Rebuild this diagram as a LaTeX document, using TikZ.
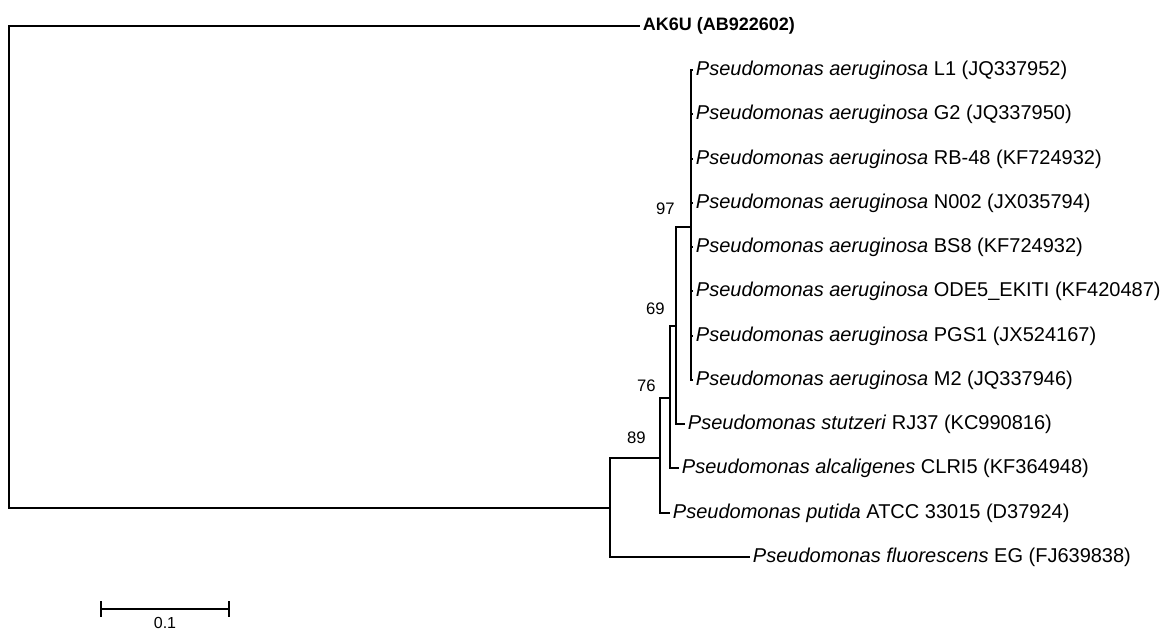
\documentclass[tikz,border=0pt]{standalone}
\usepackage{fontspec}
\setmainfont{Liberation Sans}
\begin{document}
\begin{tikzpicture}[x=0.75pt,y=-0.75pt,
    branch/.style={draw=black,line width=1.1pt},
    taxon/.style={anchor=west,inner sep=2pt,font=\fontsize{15}{17}\selectfont},
    boot/.style={anchor=south east,inner sep=0pt,font=\fontsize{12.5}{14}\selectfont}
  ]
    \useasboundingbox (0,0) rectangle (1162,632);

    \coordinate (root) at (9,267);
    \coordinate (nA) at (610,508);
    \coordinate (n89) at (660,458);
    \coordinate (n76) at (670,398);
    \coordinate (n69) at (676,326);
    \coordinate (n97) at (691,227);

    \node[taxon,font=\fontsize{13.5}{15}\bfseries] (ak6u) at (640,26) {AK6U (AB922602)};
    \node[taxon] (pa1) at (693,70) {\textit{Pseudomonas aeruginosa} L1 (JQ337952)};
    \node[taxon] (pa2) at (693,114) {\textit{Pseudomonas aeruginosa} G2 (JQ337950)};
    \node[taxon] (pa3) at (693,159) {\textit{Pseudomonas aeruginosa} RB-48 (KF724932)};
    \node[taxon] (pa4) at (693,203) {\textit{Pseudomonas aeruginosa} N002 (JX035794)};
    \node[taxon] (pa5) at (693,247) {\textit{Pseudomonas aeruginosa} BS8 (KF724932)};
    \node[taxon] (pa6) at (693,291) {\textit{Pseudomonas aeruginosa} ODE5\_EKITI (KF420487)};
    \node[taxon] (pa7) at (693,336) {\textit{Pseudomonas aeruginosa} PGS1 (JX524167)};
    \node[taxon] (pa8) at (693,380) {\textit{Pseudomonas aeruginosa} M2 (JQ337946)};
    \node[taxon] (stutz) at (685,424) {\textit{Pseudomonas stutzeri} RJ37 (KC990816)};
    \node[taxon] (alcal) at (679,468) {\textit{Pseudomonas alcaligenes} CLRI5 (KF364948)};
    \node[taxon] (putida) at (670,513) {\textit{Pseudomonas putida} ATCC 33015 (D37924)};
    \node[taxon] (fluo) at (750,557) {\textit{Pseudomonas fluorescens} EG (FJ639838)};

    \draw[branch] (root) |- (ak6u.west);
    \draw[branch] (root) |- (nA);
    \draw[branch] (nA) |- (n89);
    \draw[branch] (nA) |- (fluo.west);
    \draw[branch] (n89) |- (n76);
    \draw[branch] (n89) |- (putida.west);
    \draw[branch] (n76) |- (n69);
    \draw[branch] (n76) |- (alcal.west);
    \draw[branch] (n69) |- (n97);
    \draw[branch] (n69) |- (stutz.west);
    \draw[branch] (n97) |- (pa1.west);
    \draw[branch] (n97) |- (pa2.west);
    \draw[branch] (n97) |- (pa3.west);
    \draw[branch] (n97) |- (pa4.west);
    \draw[branch] (n97) |- (pa5.west);
    \draw[branch] (n97) |- (pa6.west);
    \draw[branch] (n97) |- (pa7.west);
    \draw[branch] (n97) |- (pa8.west);

    \node[boot] (b97) at (675,215) {97};
    \node[boot] (b69) at (665,315) {69};
    \node[boot] (b76) at (656,392) {76};
    \node[boot] (b89) at (646,444) {89};

    \coordinate (sbl) at (101,609);
    \coordinate (sbr) at (229,609);
    \draw[branch] (sbl) -- (sbr);
    \draw[branch] ([yshift=6pt]sbl) -- ([yshift=-6pt]sbl);
    \draw[branch] ([yshift=6pt]sbr) -- ([yshift=-6pt]sbr);
    \node[anchor=north,inner sep=0pt,font=\fontsize{12}{14}\selectfont] (sblabel) at (165,617) {0.1};
  \end{tikzpicture}
\end{document}
